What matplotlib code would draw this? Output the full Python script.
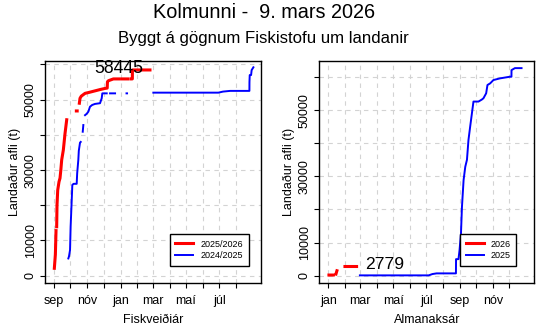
import numpy as np
import matplotlib
matplotlib.use("Agg")
import matplotlib.pyplot as plt

nan = np.nan

# Fiskveiðiár: dagar frá 1. sep
fy_days_2526 = [0.6, 2.5, 3.7, nan,
                4.9, 5.5, 6.8, 9.2, 11, 12.5, 14.1, 17.1, 20.2, 23.3, nan,
                41.0, 42.5, nan,
                46.5, 47.7, 50, 56.9, 65, 75, 85, 93.6, 97.6, 98, 100, 108.9, 120, nan,
                125.7, 134.9, nan,
                141, 143.7, 143.8, 176]
fy_vals_2526 = [2100, 6000, 12800, nan,
                13900, 20000, 24300, 26700, 27700, 30000, 32900, 35700, 40400, 44300, nan,
                46800, 46800, nan,
                49000, 50400, 51000, 51800, 52100, 52500, 52900, 53200, 53300, 55100, 55400, 55900, 55900, nan,
                55900, 55900, nan,
                55900, 55900, 58445, 58445]

fy_days_2425 = [26.3, 27.5, 29.4, 30.5, 32.5, 33.6, 36, 41.6, 42.5, 44.6, 45.5, 47.7, 49, nan,
                52.7, 53.8, nan,
                56.9, 60, 63, 66, 70, 75.2, 84.4, 87.5, 88.6, 96.7, nan,
                102.8, 112, nan,
                133, 134, nan,
                182.2, 301.5, 310, 323, 358.4, 358.5, 359, 361.5, 362.5, 365.7]
fy_vals_2425 = [4900, 5500, 7300, 14000, 21500, 25800, 26100, 26100, 29100, 32900, 35500, 37800, 38000, nan,
                40900, 42800, nan,
                45600, 46000, 46600, 48000, 48500, 48800, 49000, 50400, 51800, 51800, nan,
                51800, 51800, nan,
                51800, 51800, nan,
                52000, 52000, 52300, 52500, 52500, 55000, 57000, 57000, 58400, 59200]

# Almanaksár: dagar frá 1. jan
cy_days_2026 = [1.3, 9.2, nan, 14.2, 16, nan, 30.8, 52.2]
cy_vals_2026 = [200, 200, nan, 500, 1500, nan, 2779, 2779]

cy_days_2025 = [58.3, 185, 192, 199.6, 235.3, 235.5, 240, 242, 244.6, 246.4, 249.4, 252.5, 255.6,
                258.4, 261.5, 267.6, 276.8, 283, 286, 291, 293.4, 298.4, 304.4, 316.3, 334.6,
                337.6, 337.7, 344, 356.2]
cy_vals_2025 = [100, 100, 500, 700, 700, 5000, 5000, 7800, 12800, 20800, 28900, 32900, 35000,
                41000, 45000, 52600, 52600, 53200, 53600, 55100, 57600, 58100, 59100, 59600, 60100,
                60100, 62100, 62700, 62700]

fy_month_days = [0, 30, 61, 91, 122, 153, 181, 212, 242, 273, 303, 334]
fy_month_names = ["sep", "", "nóv", "", "jan", "", "mar", "", "maí", "", "júl", ""]
cy_month_days = [0, 31, 59, 90, 120, 151, 181, 212, 243, 273, 304, 334]
cy_month_names = ["jan", "", "mar", "", "maí", "", "júl", "", "sep", "", "nóv", ""]

y_ticks = [0, 10000, 20000, 30000, 40000, 50000, 60000]
y_labels = ["0", "10000", "", "30000", "", "50000", ""]

plt.rcParams["font.family"] = ["Liberation Sans", "DejaVu Sans"]

fig = plt.figure(figsize=(5.55, 3.33), dpi=100)
ax1 = fig.add_axes([0.0811, 0.1502, 0.3892, 0.6667])
ax2 = fig.add_axes([0.5753, 0.1502, 0.3874, 0.6667])

grid_kw = dict(color="#d3d3d3", lw=0.8, ls=(0, (4, 4)), zorder=0)


def style(ax, mdays, mnames, xlabel, ylim):
    for d in mdays:
        ax.axvline(d, **grid_kw)
    for v in y_ticks:
        ax.axhline(v, **grid_kw)
    ax.set_xlim(-16.5, 379.7)
    ax.set_ylim(*ylim)
    ax.set_xticks(mdays)
    ax.set_xticklabels(mnames)
    ax.set_yticks(y_ticks)
    ax.set_yticklabels(y_labels, rotation=90, va="center")
    ax.tick_params(direction="out", length=3.5, width=0.8, labelsize=9, colors="black")
    ax.tick_params(axis="x", pad=5)
    ax.tick_params(axis="y", pad=2.5)
    for s in ax.spines.values():
        s.set_linewidth(1.0)
    ax.set_xlabel(xlabel, fontsize=9, labelpad=5)
    ax.set_ylabel("Landaður afli (t)", fontsize=9, labelpad=3)


style(ax1, fy_month_days, fy_month_names, "Fiskveiðiár", (-2070, 61000))
ax1.plot(fy_days_2526, fy_vals_2526, color="red", lw=2.2, label="2025/2026", zorder=3)
ax1.plot(fy_days_2425, fy_vals_2425, color="blue", lw=1.4, label="2024/2025", zorder=2)
ax1.text(119, 58900, "58445", fontsize=12.7, ha="center", va="center", zorder=4)
ax1.legend(loc="center", bbox_to_anchor=(0.76, 0.149), fontsize=6.5, frameon=True,
           fancybox=False, edgecolor="black", framealpha=1, handlelength=2.0,
           borderpad=0.6, labelspacing=0.3, handletextpad=0.8, borderaxespad=0)

style(ax2, cy_month_days, cy_month_names, "Almanaksár", (-2200, 64860))
ax2.plot(cy_days_2026, cy_vals_2026, color="red", lw=2.2, label="2026", zorder=3)
ax2.plot(cy_days_2025, cy_vals_2025, color="blue", lw=1.4, label="2025", zorder=2)
ax2.text(103.5, 3300, "2779", fontsize=12.6, ha="center", va="center", zorder=4)
ax2.legend(loc="center", bbox_to_anchor=(0.786, 0.149), fontsize=6.5, frameon=True,
           fancybox=False, edgecolor="black", framealpha=1, handlelength=2.0,
           borderpad=0.6, labelspacing=0.3, handletextpad=0.8, borderaxespad=0)

fig.text(0.475, 0.945, "Kolmunni -  9. mars 2026", fontsize=14.3, ha="center", va="baseline")
fig.text(0.475, 0.870, "Byggt á gögnum Fiskistofu um landanir", fontsize=12.1,
         ha="center", va="baseline")

fig.savefig("out.png", dpi=100)
